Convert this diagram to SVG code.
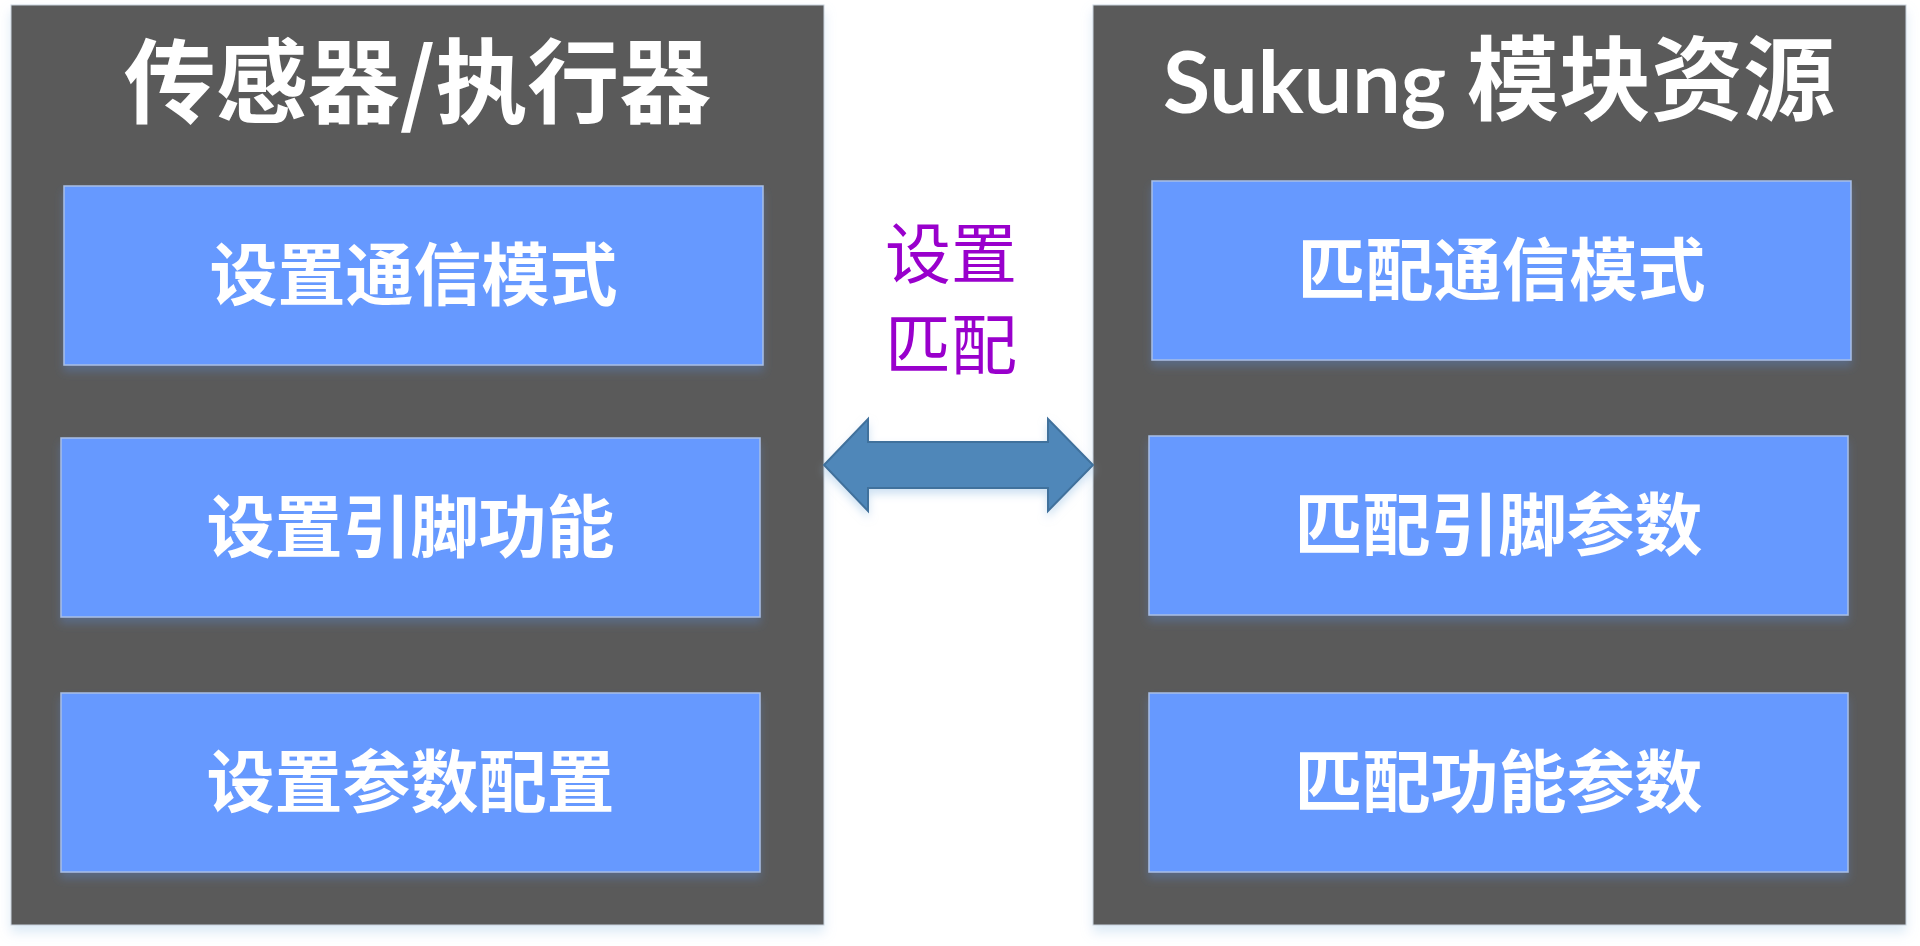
<svg xmlns="http://www.w3.org/2000/svg" width="1920" height="946" viewBox="0 0 1920 946">
<defs>
<filter id="pshadow" x="-5%" y="-5%" width="110%" height="112%">
<feDropShadow dx="0" dy="7" stdDeviation="6" flood-color="#9dc3e6" flood-opacity="0.35"/>
</filter>
<filter id="bshadow" x="-5%" y="-10%" width="110%" height="130%">
<feDropShadow dx="0" dy="6" stdDeviation="4" flood-color="#5a7fb8" flood-opacity="0.45"/>
</filter>
<filter id="ashadow" x="-10%" y="-20%" width="120%" height="150%">
<feDropShadow dx="0" dy="5" stdDeviation="4" flood-color="#9dc3e6" flood-opacity="0.5"/>
</filter>
</defs>
<style>
.panel{fill:#5a5a5a;stroke:#c9d3de;stroke-width:1;filter:url(#pshadow)}
.box{fill:#6699ff;stroke:#a9bfe6;stroke-width:1.5;filter:url(#bshadow)}
.title{font-family:"Noto Sans CJK SC",sans-serif;font-weight:700;font-size:92px;fill:#ffffff;text-anchor:middle}
.lbl{font-family:"Noto Sans CJK SC",sans-serif;font-weight:700;font-size:68px;fill:#ffffff;text-anchor:middle}
.mid{font-family:"Noto Sans CJK SC",sans-serif;font-weight:400;font-size:66px;fill:#9900cc;text-anchor:middle}
</style>
<rect width="1920" height="946" fill="#ffffff"/>
<g id="left-panel">
<rect class="panel" x="11" y="5" width="813" height="920"/>
<text class="title" x="417.5" y="116">传感器/执行器</text>
</g>
<g id="right-panel">
<rect class="panel" x="1093" y="5" width="813" height="920"/>
<text class="title" x="1499" y="113"><tspan font-family="Lato, sans-serif" font-size="86">Sukung </tspan>模块资源</text>
</g>
<g id="l1"><rect class="box" x="64" y="186" width="699" height="179"/><text class="lbl" x="413.5" y="300">设置通信模式</text></g>
<g id="l2"><rect class="box" x="61" y="438" width="699" height="179"/><text class="lbl" x="410.5" y="552">设置引脚功能</text></g>
<g id="l3"><rect class="box" x="61" y="693" width="699" height="179"/><text class="lbl" x="410.5" y="807">设置参数配置</text></g>
<g id="r1"><rect class="box" x="1152" y="181" width="699" height="179"/><text class="lbl" x="1501.5" y="295">匹配通信模式</text></g>
<g id="r2"><rect class="box" x="1149" y="436" width="699" height="179"/><text class="lbl" x="1498.5" y="550">匹配引脚参数</text></g>
<g id="r3"><rect class="box" x="1149" y="693" width="699" height="179"/><text class="lbl" x="1498.5" y="807">匹配功能参数</text></g>
<g id="connectors">
<polygon points="824,465 868,419 868,442 1048,442 1048,419 1093,465 1048,511 1048,488 868,488 868,511" fill="#4f87b9" stroke="#41719c" stroke-width="2" stroke-linejoin="miter" filter="url(#ashadow)"/>
<text class="mid" x="951" y="278">设置</text>
<text class="mid" x="951" y="369">匹配</text>
</g>
</svg>
